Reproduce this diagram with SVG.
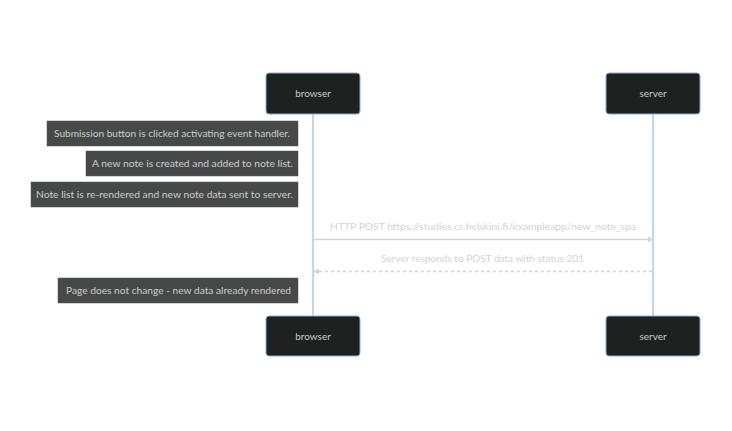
<svg xmlns="http://www.w3.org/2000/svg" width="732" height="431" viewBox="0 0 732 431">
<defs>
<style>
text{font-family:Lato,"Open Sans","DejaVu Sans",sans-serif;font-size:10px}
.actor rect{fill:#1f2020;stroke:#81b1db;stroke-width:1}
.actor text{fill:#cccccc;text-anchor:middle}
.note rect{fill:#474949;stroke:#555;stroke-width:0.5}
.note text{fill:#cccccc;text-anchor:middle}
.life{stroke:#81b1db;stroke-width:1}
.msg{stroke:#d3d3d3;stroke-width:1.5;fill:none}
.msgtext{fill:#d3d3d3;text-anchor:middle}
</style>
<marker id="arrow" viewBox="0 0 10 10" refX="9" refY="5" markerWidth="6" markerHeight="6" orient="auto-start-reverse" markerUnits="userSpaceOnUse">
<path d="M0,0 L10,5 L0,10 z" fill="#d3d3d3"/>
</marker>
</defs>
<rect width="732" height="431" fill="#ffffff"/>
<g id="lifelines">
<line class="life" x1="313" y1="114" x2="313" y2="316"/>
<line class="life" x1="653" y1="114" x2="653" y2="316"/>
</g>
<g id="browser-top" class="actor"><rect x="266" y="73" width="94" height="41" rx="3"/><text x="313" y="97">browser</text></g>
<g id="server-top" class="actor"><rect x="606" y="73" width="94" height="41" rx="3"/><text x="653" y="97">server</text></g>
<g id="browser-bottom" class="actor"><rect x="266" y="316" width="94" height="40" rx="3"/><text x="313" y="340">browser</text></g>
<g id="server-bottom" class="actor"><rect x="606" y="316" width="94" height="40" rx="3"/><text x="653" y="340">server</text></g>
<g id="note1" class="note"><rect x="47" y="121" width="251" height="25"/><text x="172" y="137" textLength="236" lengthAdjust="spacingAndGlyphs">Submission button is clicked activating event handler.</text></g>
<g id="note2" class="note"><rect x="86" y="151" width="212" height="25"/><text x="192.5" y="167" textLength="201" lengthAdjust="spacingAndGlyphs">A new note is created and added to note list.</text></g>
<g id="note3" class="note"><rect x="31" y="182" width="267" height="25"/><text x="164.5" y="198" textLength="257" lengthAdjust="spacingAndGlyphs">Note list is re-rendered and new note data sent to server.</text></g>
<g id="note4" class="note"><rect x="58" y="278" width="240" height="25"/><text x="178.5" y="294" textLength="225" lengthAdjust="spacingAndGlyphs">Page does not change - new data already rendered</text></g>
<g id="connectors">
<line class="msg" x1="314" y1="239.5" x2="653" y2="239.5" marker-end="url(#arrow)"/>
<text class="msgtext" x="483" y="230" textLength="306" lengthAdjust="spacingAndGlyphs">HTTP POST https://studies.cs.helskini.fi/exampleapp/new_note_spa</text>
<line class="msg" x1="652" y1="271.5" x2="314" y2="271.5" stroke-dasharray="3,3" stroke-width="1" marker-end="url(#arrow)"/>
<text class="msgtext" x="482.5" y="262" textLength="203" lengthAdjust="spacingAndGlyphs">Server responds to POST data with status 201</text>
</g>
</svg>
